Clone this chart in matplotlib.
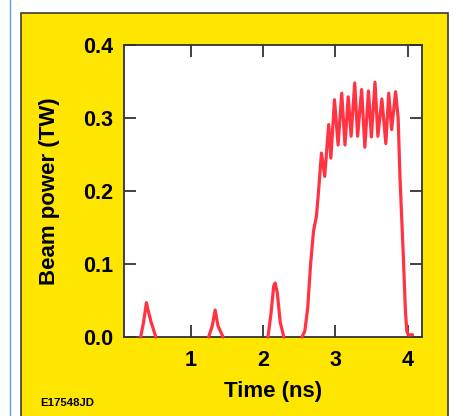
import matplotlib
matplotlib.use("Agg")
import matplotlib.pyplot as plt
from matplotlib.patches import Rectangle
from matplotlib.lines import Line2D

# ---- data ----
pulse1_t = [0.31, 0.35, 0.39, 0.41, 0.45, 0.52]
pulse1_p = [0.0, 0.020, 0.047, 0.038, 0.022, 0.0]

pulse2_t = [1.25, 1.30, 1.34, 1.38, 1.45]
pulse2_p = [0.0, 0.015, 0.037, 0.015, 0.0]

pulse3_t = [2.07, 2.11, 2.15, 2.17, 2.20, 2.24, 2.29]
pulse3_p = [0.0, 0.030, 0.070, 0.074, 0.060, 0.020, 0.0]

main_t = [2.54, 2.58, 2.62, 2.66, 2.70, 2.74, 2.77, 2.81, 2.855, 2.91, 2.94,
          2.99, 3.04, 3.09, 3.135, 3.18, 3.22, 3.27, 3.31, 3.365, 3.41, 3.46,
          3.50, 3.55, 3.59, 3.645, 3.70, 3.74, 3.78, 3.835, 3.87, 3.895, 3.94,
          3.97, 3.99, 4.01, 4.07]
main_p = [0.0, 0.008, 0.040, 0.100, 0.145, 0.165, 0.200, 0.252, 0.220, 0.291,
          0.245, 0.325, 0.263, 0.334, 0.263, 0.329, 0.275, 0.348, 0.275, 0.339,
          0.260, 0.337, 0.274, 0.349, 0.275, 0.326, 0.265, 0.334, 0.284, 0.336,
          0.300, 0.220, 0.115, 0.037, 0.008, 0.003, 0.003]

x_ticks = [1, 2, 3, 4]
y_ticks = [0.0, 0.1, 0.2, 0.3, 0.4]
y_tick_labels = ["0.0", "0.1", "0.2", "0.3", "0.4"]

W, H = 454, 416
fig = plt.figure(figsize=(W / 100, H / 100), dpi=100)
fig.patch.set_facecolor("white")

def fx(px):
    return px / W

def fy(py):
    return 1 - py / H

# blue rule on the left
fig.add_artist(Line2D([fx(9.5), fx(9.5)], [0, 1], color="#4da6de", lw=1.0,
                      zorder=-2))
# yellow panel
fig.add_artist(Rectangle((fx(21), fy(430)), fx(448) - fx(21), fy(13) - fy(430),
                         facecolor="#FFE600", edgecolor="#3a3a3a", lw=1.2,
                         transform=fig.transFigure, clip_on=False, zorder=-2))

ax = fig.add_axes([fx(124), fy(337), fx(422) - fx(124), fy(45) - fy(337)])
ax.set_zorder(5)
ax.set_facecolor("white")

red = "#FF3341"
for t, p in [(pulse1_t, pulse1_p), (pulse2_t, pulse2_p),
             (pulse3_t, pulse3_p), (main_t, main_p)]:
    ax.plot(t, p, color=red, lw=2.3, solid_joinstyle="round",
            solid_capstyle="round", clip_on=False, zorder=3)

ax.set_xlim(0.08, 4.2)
ax.set_ylim(0, 0.4)
ax.set_xticks(x_ticks)
ax.set_yticks(y_ticks)
ax.set_yticklabels(y_tick_labels)

font = dict(family="Liberation Sans", weight="bold")
for lab in ax.get_xticklabels() + ax.get_yticklabels():
    lab.set_fontfamily("Liberation Sans")
    lab.set_fontweight("bold")
    lab.set_fontsize(15.5)

ax.tick_params(direction="in", length=8.6, width=1.2, color="#222222",
               top=True, right=True, labelcolor="black")
ax.tick_params(axis="x", pad=9)
ax.tick_params(axis="y", pad=8)
for s in ax.spines.values():
    s.set_linewidth(1.3)
    s.set_color("#333333")

fig.text(fx(273), fy(392), "Time (ns)", ha="center", va="center",
         fontsize=16, **font)
fig.text(fx(50), fy(191), "Beam power (TW)", ha="center", va="center",
         rotation=90, fontsize=16, **font)
fig.text(fx(40), fy(403), "E17548JD", ha="left", va="center",
         fontsize=8.2, **font)

fig.savefig("out.png", dpi=100, facecolor="white")
